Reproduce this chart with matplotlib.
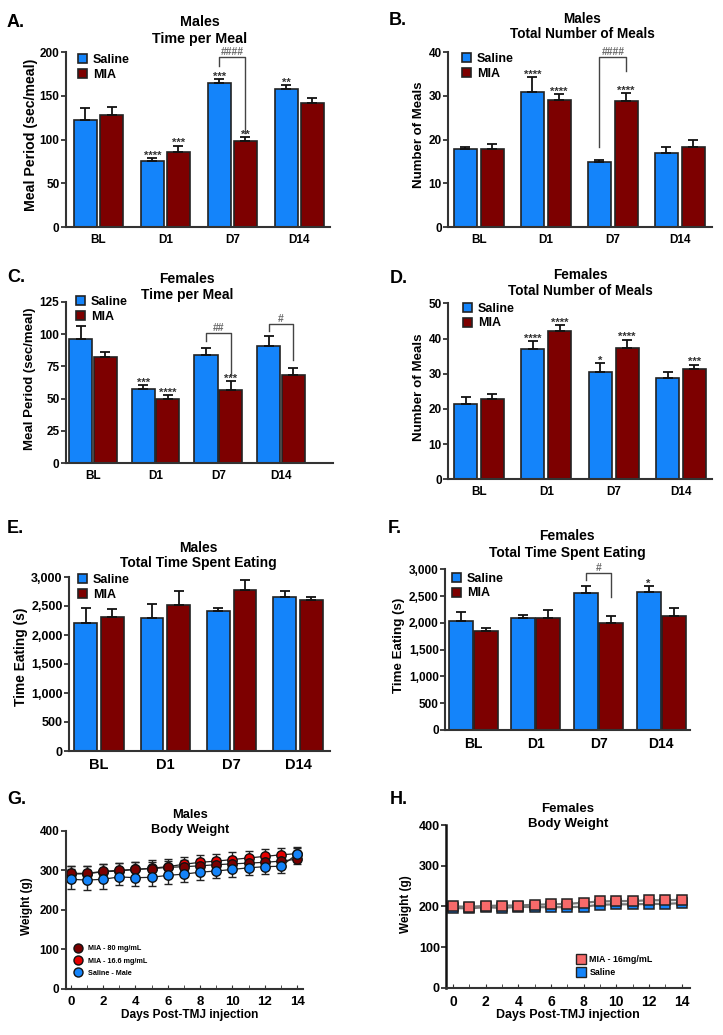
import matplotlib
matplotlib.use('Agg')
import matplotlib.pyplot as plt
import numpy as np
from matplotlib.patches import Patch
from matplotlib.lines import Line2D
from matplotlib.ticker import StrMethodFormatter, MultipleLocator

plt.rcParams['font.family'] = ['Liberation Sans', 'DejaVu Sans']
plt.rcParams['font.weight'] = 'bold'
plt.rcParams['axes.labelweight'] = 'bold'

# ---------------- data ----------------
days = ['BL', 'D1', 'D7', 'D14']

# A. Males - time per meal
a_sal = [122, 75, 165, 158]
a_sal_err = [14, 4, 4, 4]
a_mia = [128, 86, 98, 142]
a_mia_err = [9, 7, 5, 5]
a_sal_sig = ['', '****', '***', '**']
a_mia_sig = ['', '***', '**', '']

# B. Males - total number of meals
b_sal = [17.8, 30.8, 14.8, 16.9]
b_sal_err = [0.6, 3.5, 0.5, 1.4]
b_mia = [17.8, 29.1, 28.7, 18.3]
b_mia_err = [1.2, 1.2, 2.0, 1.7]
b_sal_sig = ['', '****', '', '']
b_mia_sig = ['', '****', '****', '']

# C. Females - time per meal
c_sal = [96.4, 57.5, 83.8, 91.0]
c_sal_err = [9.6, 3.3, 5.6, 7.5]
c_mia = [82.2, 49.5, 56.7, 68.3]
c_mia_err = [4.1, 3.5, 6.7, 5.7]
c_sal_sig = ['', '***', '', '']
c_mia_sig = ['', '****', '***', '']

# D. Females - total number of meals
d_sal = [21.5, 36.9, 30.6, 28.8]
d_sal_err = [2.0, 2.3, 2.4, 1.6]
d_mia = [22.8, 42.2, 37.2, 31.3]
d_mia_err = [1.3, 1.6, 2.5, 1.3]
d_sal_sig = ['', '****', '*', '']
d_mia_sig = ['', '****', '****', '***']

# E. Males - total time spent eating
e_sal = [2209, 2289, 2415, 2656]
e_sal_err = [258, 241, 58, 104]
e_mia = [2306, 2513, 2777, 2599]
e_mia_err = [150, 247, 172, 63]
e_sal_sig = ['', '', '', '']
e_mia_sig = ['', '', '', '']

# F. Females - total time spent eating
f_sal = [2029, 2097, 2551, 2576]
f_sal_err = [174, 50, 137, 112]
f_mia = [1848, 2097, 2004, 2122]
f_mia_err = [63, 143, 124, 162]
f_sal_sig = ['', '', '', '*']
f_mia_sig = ['', '', '', '']

# G. Males - body weight
g_days = list(range(15))
g_mia80 = [292, 292, 297, 300, 302, 304, 307, 309, 311, 314, 316, 318, 320, 323, 328]
g_mia80_err = [18, 19, 18, 18, 18, 17, 17, 17, 17, 17, 17, 16, 16, 15, 12]
g_mia16 = [290, 291, 296, 298, 302, 305, 309, 315, 320, 323, 327, 331, 335, 339, 342]
g_mia16_err = [20, 20, 20, 20, 20, 20, 19, 19, 19, 19, 19, 18, 18, 18, 18]
g_sal = [277, 275, 277, 283, 281, 282, 287, 290, 295, 298, 302, 306, 309, 310, 341]
g_sal_err = [25, 25, 24, 20, 22, 21, 21, 21, 20, 19, 19, 19, 18, 17, 15]

# H. Females - body weight
h_days = list(range(15))
h_mia16 = [200, 199, 201, 202, 202, 204, 205, 206, 209, 212, 213, 213, 215, 215, 216]
h_sal = [196, 195, 198, 196, 199, 198, 198, 198, 199, 204, 205, 205, 206, 206, 208]

BLUE = '#1484FA'
RED = '#7D0000'
G_DARK = '#7a0000'
G_RED = '#e60000'
SALMON = '#f76a6a'
SPINE = '#333333'

W, H = 723, 1035
fig = plt.figure(figsize=(W / 100, H / 100), dpi=100)


def add_ax(l, r, t, b):
    ax = fig.add_axes([l / W, 1 - b / H, (r - l) / W, (b - t) / H])
    ax._px = (l, r, t, b)
    return ax


def px2ax(ax, x, y):
    l, r, t, b = ax._px
    return ((x - l) / (r - l), (b - y) / (b - t))


def ftext(x, y, s, **kw):
    fig.text(x / W, 1 - y / H, s, **kw)


def style_axes(ax):
    for s in ['top', 'right']:
        ax.spines[s].set_visible(False)
    for s in ['left', 'bottom']:
        ax.spines[s].set_color(SPINE)
        ax.spines[s].set_linewidth(1.5)


def bar_panel(box, xlim, ylim, ystep, sal, sal_e, mia, mia_e, width, off,
              sal_sig, mia_sig, brackets, leg_px, xfs, yfs=8.5, comma=False):
    ax = add_ax(*box)
    style_axes(ax)
    x = np.arange(len(days))
    ax.bar(x - off, sal, width, color=BLUE, edgecolor='#222222', linewidth=1.2, zorder=2)
    ax.bar(x + off, mia, width, color=RED, edgecolor='#222222', linewidth=1.2, zorder=2)
    z = np.zeros(len(days))
    for xx, v, e in [(x - off, sal, sal_e), (x + off, mia, mia_e)]:
        ax.errorbar(xx, v, yerr=[z, e], fmt='none', ecolor='#111111',
                    elinewidth=1.3, capsize=3.6, capthick=1.3, zorder=3)
    for i in range(len(days)):
        for xx, v, e, sg in [(x[i] - off, sal[i], sal_e[i], sal_sig[i]),
                             (x[i] + off, mia[i], mia_e[i], mia_sig[i])]:
            if sg:
                ax.annotate(sg, (xx, v + e), xytext=(0, -0.5), textcoords='offset points',
                            ha='center', va='baseline', fontsize=8, color='#333333',
                            annotation_clip=False)
    for (g, top, lb, rb, lab) in brackets:
        xl, xr = x[g] - off, x[g] + off
        ax.plot([xl, xl, xr, xr], [lb, top, top, rb], color='#444444', lw=1.0,
                clip_on=False, zorder=4)
        ax.annotate(lab, ((xl + xr) / 2, top), xytext=(0, 1.5), textcoords='offset points',
                    ha='center', va='baseline', fontsize=7.5, color='#6a6a6a',
                    annotation_clip=False)
    ax.set_xlim(*xlim)
    ax.set_ylim(*ylim)
    ax.set_yticks(np.arange(ylim[0], ylim[1] + ystep / 2, ystep))
    if comma:
        ax.yaxis.set_major_formatter(StrMethodFormatter('{x:,.0f}'))
    ax.set_xticks(x)
    ax.set_xticklabels(days)
    ax.tick_params(axis='x', length=0, pad=5, labelsize=xfs)
    ax.tick_params(axis='y', length=3.5, width=1.3, color=SPINE, pad=1, labelsize=yfs)
    handles = [Patch(facecolor=BLUE, edgecolor='#222222', linewidth=1.2),
               Patch(facecolor=RED, edgecolor='#222222', linewidth=1.2)]
    ax.legend(handles, ['Saline', 'MIA'], loc='upper left',
              bbox_to_anchor=px2ax(ax, *leg_px), frameon=False, fontsize=9,
              handlelength=0.7, handleheight=0.75, handletextpad=0.5,
              labelspacing=0.2, borderpad=0, borderaxespad=0)
    return ax


# Panel A
bar_panel((65.7, 330, 52, 227), (-0.49, 3.46), (0, 200), 50,
          a_sal, a_sal_err, a_mia, a_mia_err, 0.34, 0.195,
          a_sal_sig, a_mia_sig, [(2, 194, 183.5, 107, '####')], (78, 54), 8.5)
# Panel B
bar_panel((448, 712, 52, 227), (-0.46, 3.48), (0, 40), 10,
          b_sal, b_sal_err, b_mia, b_mia_err, 0.34, 0.2,
          b_sal_sig, b_mia_sig, [(2, 38.9, 18.4, 35.7, '####')], (462, 53), 8.5)
# Panel C
bar_panel((65.7, 333, 301.7, 463.3), (-0.435, 3.83), (0, 125), 25,
          c_sal, c_sal_err, c_mia, c_mia_err, 0.37, 0.195,
          c_sal_sig, c_mia_sig, [(2, 100.5, 94.8, 68.3, '##'), (3, 107.7, 102, 80, '#')],
          (76, 296), 8.5)
# Panel D
bar_panel((448, 712, 303.3, 479.3), (-0.46, 3.46), (0, 50), 10,
          d_sal, d_sal_err, d_mia, d_mia_err, 0.345, 0.2,
          d_sal_sig, d_mia_sig, [], (463, 303), 8.5)
# Panel E
bar_panel((69, 330, 577, 751), (-0.45, 3.48), (0, 3000), 500,
          e_sal, e_sal_err, e_mia, e_mia_err, 0.345, 0.2,
          e_sal_sig, e_mia_sig, [], (78, 574), 10.5, yfs=9, comma=True)
# Panel F
bar_panel((445, 690, 569.3, 730), (-0.45, 3.46), (0, 3000), 500,
          f_sal, f_sal_err, f_mia, f_mia_err, 0.38, 0.2,
          f_sal_sig, f_mia_sig, [(2, 2925, 2801, 2490, '#')], (452, 573), 10, yfs=8.5,
          comma=True)

# Panel G
axg = add_ax(65.7, 303, 830.7, 988.7)
style_axes(axg)
for vals, errs, col in [(g_mia16, g_mia16_err, G_RED), (g_mia80, g_mia80_err, G_DARK),
                        (g_sal, g_sal_err, BLUE)]:
    axg.errorbar(g_days, vals, yerr=errs, fmt='-o', color='#222222', lw=0.9,
                 mfc=col, mec='#111111', mew=1.0, ms=6.8, elinewidth=1.0,
                 capsize=2.8, capthick=1.0)
axg.set_xlim(-0.31, 14.36)
axg.set_ylim(0, 400)
axg.set_yticks([0, 100, 200, 300, 400])
axg.xaxis.set_major_locator(MultipleLocator(2))
axg.xaxis.set_minor_locator(MultipleLocator(1))
axg.tick_params(axis='x', which='both', direction='in', length=3, color=SPINE, pad=5,
                labelsize=9.5)
axg.tick_params(axis='y', length=3.5, width=1.3, color=SPINE, pad=1, labelsize=8.5)
gh = [Line2D([], [], ls='none', marker='o', mfc=c, mec='#111111', ms=6.5)
      for c in [G_DARK, G_RED, BLUE]]
axg.legend(gh, ['MIA - 80 mg/mL', 'MIA - 16.6 mg/mL', 'Saline - Male'], loc='upper left',
           bbox_to_anchor=px2ax(axg, 74, 945), frameon=False, fontsize=5.2,
           handlelength=1.0, handletextpad=0.9, labelspacing=0.75, borderpad=0,
           borderaxespad=0)

# Panel H
axh = add_ax(446, 690, 825, 987.7)
style_axes(axh)
axh.spines['left'].set_color('#111111')
axh.spines['left'].set_linewidth(1.8)
for vals, col in [(h_sal, BLUE), (h_mia16, SALMON)]:
    axh.plot(h_days, vals, '-s', color='#777777', lw=1.6, mfc=col, mec='#222222',
             mew=1.1, ms=7)
axh.set_xlim(-0.43, 14.52)
axh.set_ylim(0, 400)
axh.set_yticks([0, 100, 200, 300, 400])
axh.xaxis.set_major_locator(MultipleLocator(2))
axh.xaxis.set_minor_locator(MultipleLocator(1))
axh.tick_params(axis='x', which='both', direction='in', length=3, color=SPINE, pad=5,
                labelsize=10)
axh.tick_params(axis='y', length=3.5, width=1.3, color=SPINE, pad=1, labelsize=9)
hh = [Line2D([], [], ls='none', marker='s', mfc=c, mec='#222222', ms=7)
      for c in [SALMON, BLUE]]
axh.legend(hh, ['MIA - 16mg/mL', 'Saline'], loc='upper left',
           bbox_to_anchor=px2ax(axh, 577, 955.5), frameon=False, fontsize=6.4,
           handlelength=1.0, handletextpad=0.4, labelspacing=0.35, borderpad=0,
           borderaxespad=0)

# ---------------- text ----------------
letters = [('A.', 7, 27), ('B.', 389, 25), ('C.', 7, 282), ('D.', 390, 283),
           ('E.', 7, 533), ('F.', 388, 533), ('G.', 7, 804), ('H.', 390, 804)]
for s, x, y in letters:
    ftext(x, y, s, fontsize=13, fontweight='bold', ha='left', va='baseline')

titles = [('Males', 'Time per Meal', 200, 26.3, 42.7, 10.3),
          ('Males', 'Total Number of Meals', 582, 22.7, 38.3, 9.8),
          ('Females', 'Time per Meal', 187, 283.3, 299, 10),
          ('Females', 'Total Number of Meals', 580, 279, 295, 9.8),
          ('Males', 'Total Time Spent Eating', 198, 552, 567, 10),
          ('Females', 'Total Time Spent Eating', 567, 540, 557, 10),
          ('Males', 'Body Weight', 190, 818, 833, 9.3),
          ('Females', 'Body Weight', 568, 812, 827, 9.5)]
for t1, t2, x, y1, y2, fs in titles:
    ftext(x, y1, t1, fontsize=fs, fontweight='bold', ha='center', va='baseline')
    ftext(x, y2, t2, fontsize=fs, fontweight='bold', ha='center', va='baseline')

ylabels = [('Meal Period (sec/meal)', 31, 134.5, 10.2),
           ('Number of Meals', 419, 135, 9.5),
           ('Meal Period (sec/meal)', 30.5, 379, 9.5),
           ('Number of Meals', 419, 387.5, 9.6),
           ('Time Eating (s)', 21.5, 657, 9.9),
           ('Time Eating (s)', 399, 645, 9.6),
           ('Weight (g)', 27.5, 906, 8.5),
           ('Weight (g)', 406, 904, 8.5)]
for s, x, y, fs in ylabels:
    ftext(x, y, s, fontsize=fs, fontweight='bold', rotation=90, ha='center', va='center')

ftext(190, 1015, 'Days Post-TMJ injection', fontsize=8.6, fontweight='bold',
      ha='center', va='center')
ftext(568, 1015, 'Days Post-TMJ injection', fontsize=8.9, fontweight='bold',
      ha='center', va='center')

fig.savefig('out.png', dpi=100)
